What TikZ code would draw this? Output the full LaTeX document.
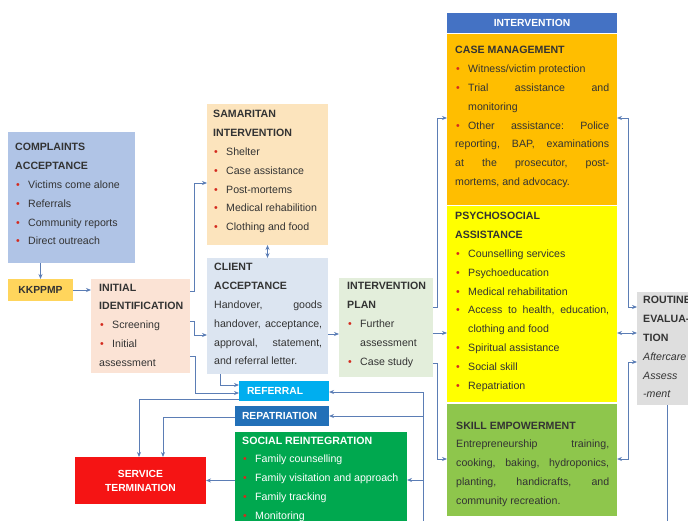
\documentclass[tikz,border=0pt]{standalone}
\usepackage{fontspec}
\setmainfont{Liberation Sans}
\usetikzlibrary{arrows.meta,positioning,calc}

\definecolor{cmpblue}{HTML}{B0C4E6}
\definecolor{kkyellow}{HTML}{FFD55C}
\definecolor{initpink}{HTML}{FBE3D5}
\definecolor{samorange}{HTML}{FCE4BD}
\definecolor{cliblue}{HTML}{DCE5F1}
\definecolor{plangreen}{HTML}{E3EEDB}
\definecolor{ivblue}{HTML}{4472C4}
\definecolor{cmorange}{HTML}{FFBE00}
\definecolor{psyyellow}{HTML}{FFFF00}
\definecolor{skillgreen}{HTML}{8EC64C}
\definecolor{routgray}{HTML}{DEDEDE}
\definecolor{reflcyan}{HTML}{00AEEF}
\definecolor{repatblue}{HTML}{2270B8}
\definecolor{socgreen}{HTML}{00A84F}
\definecolor{termred}{HTML}{F51414}
\definecolor{linec}{HTML}{5B7DB5}
\definecolor{txtgray}{HTML}{333333}
\definecolor{dotred}{HTML}{D42A1E}

\newcommand{\hd}[1]{\textbf{#1}}
\newcommand{\itm}[1]{\par\hangindent=13pt\hangafter=1\noindent\makebox[13pt][l]{\hspace{1pt}\textcolor{dotred}{\textbullet}}#1}

\begin{document}
\begin{tikzpicture}[x=1pt, y=-1pt,
    box/.style={anchor=north west, inner sep=0pt, outer sep=0pt},
    txt/.style={anchor=base west, inner sep=0pt, text width=#1, align=justify, font=\fontsize{10.6}{18.8}\selectfont, text=txtgray},
    tag/.style={font=\fontsize{10.3}{14}\selectfont\bfseries, text=white},
    arr/.style={-{Stealth[length=5pt,width=4pt]}, draw=linec, line width=0.9pt},
    both/.style={{Stealth[length=5pt,width=4pt]}-{Stealth[length=5pt,width=4pt]}, draw=linec, line width=0.9pt}
]
\useasboundingbox (0,0) rectangle (688,521);

% Entry (left column)
\node[box, fill=cmpblue, minimum width=127pt, minimum height=131pt] (cmp) at (8,132) {};
\node[txt=115pt] (cmptext) at (15,151) {\hd{COMPLAINTS\\ACCEPTANCE}\itm{Victims come alone}\itm{Referrals}\itm{Community reports}\itm{Direct outreach}};
\node[box, fill=kkyellow, minimum width=65pt, minimum height=22pt, font=\fontsize{10.3}{14}\selectfont\bfseries, text=txtgray] (kk) at (8,279) {KKPPMP};
\node[box, fill=initpink, minimum width=99pt, minimum height=94pt] (init) at (91,279) {};
\node[txt=89pt] (inittext) at (99,291) {\hd{INITIAL\\IDENTIFICATION}\itm{Screening}\itm{Initial\\assessment}};

% Samaritan and client
\node[box, fill=samorange, minimum width=121pt, minimum height=141pt] (samar) at (207,104) {};
\node[txt=112pt] (samtext) at (213,118) {\hd{SAMARITAN\\INTERVENTION}\itm{Shelter}\itm{Case assistance}\itm{Post-mortems}\itm{Medical rehabilition}\itm{Clothing and food}};
\node[box, fill=cliblue, minimum width=121pt, minimum height=116pt] (client) at (207,258) {};
\node[txt=108pt] (clitext) at (214,271) {\hd{CLIENT\\ACCEPTANCE}\\Handover,\hfill goods\\handover,\hfill acceptance,\\approval,\hfill statement,\\and referral letter.};
\node[box, fill=plangreen, minimum width=94pt, minimum height=99pt] (plan) at (339,278) {};
\node[txt=84pt] (plantext) at (347,290) {\hd{INTERVENTION\\PLAN}\itm{Further\\assessment}\itm{Case study}};

% Intervention column
\node[box, fill=ivblue, minimum width=170pt, minimum height=20pt, tag] (ivh) at (447,13) {INTERVENTION};
\node[box, fill=cmorange, minimum width=170pt, minimum height=171pt] (cm) at (447,34) {};
\node[txt=154pt] (cmtext) at (455,54) {\hd{CASE MANAGEMENT}\itm{Witness/victim protection}\itm{Trial\hfill assistance\hfill and\\monitoring}\itm{Other\hfill assistance:\hfill Police\\reporting,\hfill BAP,\hfill examinations\\at\hfill the\hfill prosecutor,\hfill post-\\mortems, and advocacy.}};
\node[box, fill=psyyellow, minimum width=170pt, minimum height=196pt] (psy) at (447,206) {};
\node[txt=154pt] (psytext) at (455,220) {\hd{PSYCHOSOCIAL\\ASSISTANCE}\itm{Counselling services}\itm{Psychoeducation}\itm{Medical rehabilitation}\itm{Access\hfill to\hfill health,\hfill education,\\clothing and food}\itm{Spiritual assistance}\itm{Social skill}\itm{Repatriation}};
\node[box, fill=skillgreen, minimum width=170pt, minimum height=112pt] (skill) at (447,404) {};
\node[txt=153pt] (skilltext) at (456,429) {\hd{SKILL EMPOWERMENT}\\Entrepreneurship\hfill training,\\cooking,\hfill baking,\hfill hydroponics,\\planting,\hfill handicrafts,\hfill and\\community recreation.};
\node[box, fill=routgray, minimum width=70pt, minimum height=113pt] (rout) at (637,292) {};
\node[txt=60pt] (routtext) at (643,304) {\hd{ROUTINE\\EVALUA-\\TION}\\\textit{Aftercare\\Assess\\-ment}};

% Exit (bottom)
\node[box, fill=reflcyan, minimum width=90pt, minimum height=20pt, tag, inner xsep=8pt, text width=74pt, align=left] (refl) at (239,381) {REFERRAL};
\node[box, fill=repatblue, minimum width=94pt, minimum height=20pt, tag, inner xsep=7pt, text width=80pt, align=left] (repat) at (235,406) {REPATRIATION};
\node[box, fill=socgreen, minimum width=172pt, minimum height=96pt] (social) at (235,432) {};
\node[txt=163pt, text=white] (soctext) at (242,444) {\hd{SOCIAL REINTEGRATION}\itm{Family counselling}\itm{Family visitation and approach}\itm{Family tracking}\itm{Monitoring}};
\node[box, fill=termred, minimum width=131pt, minimum height=47pt, tag, align=center] (term) at (75,457) {SERVICE\\TERMINATION};

\coordinate (rbot) at (667,530);
\coordinate (lbot) at (423,530);

% Arrows on the entry side
\draw[arr] (cmp.south -| kk.north) -- (kk.north);
\draw[arr] (kk.east) -- (kk.east -| init.west);
\draw[arr] ($(init.north east)+(0,12)$) -- ++(4,0) |- ($(samar.north west)+(0,79)$);
\draw[arr] ($(init.north east)+(0,42)$) -- ++(4,0) |- ($(client.north west)+(0,77)$);
\draw[arr] ($(init.north east)+(0,77)$) -- ++(5,0) |- ($(refl.north west)+(0,12)$);
\draw[arr] ($(client.south west)+(13,0)$) |- ($(refl.north west)+(0,4)$);
\draw[both] (samar.south) -- (client.north);
\draw[arr] ($(client.north east)+(0,76)$) -- ($(plan.north west)+(0,56)$);

% Arrows from the plan to the intervention
\draw[arr] ($(plan.north east)+(0,29)$) -- ++(4,0) |- ($(cm.north west)+(0,84)$);
\draw[arr] ($(plan.north east)+(0,55)$) -- ($(psy.north west)+(0,127)$);
\draw[arr] ($(plan.north east)+(0,85)$) -- ++(4,0) |- ($(skill.north west)+(0,55)$);

% Routine evaluation
\draw[both] ($(cm.north east)+(0,84)$) -- ++(11,0) |- ($(rout.north west)+(0,15)$);
\draw[both] ($(psy.north east)+(0,127)$) -- ($(rout.north west)+(0,41)$);
\draw[both] ($(skill.north east)+(0,55)$) -- ++(11,0) |- ($(rout.north west)+(0,70)$);
\draw[draw=linec, line width=0.9pt] ($(rout.south west)+(30,0)$) -- (rbot);

% Arrows on the exit side
\draw[arr] (lbot) |- ($(refl.north east)+(0,11)$);
\draw[arr] (lbot |- repat.east) -- (repat.east);
\draw[arr] (lbot |- social.east) -- (social.east);
\draw[arr] ($(refl.south west)+(0,-2)$) -| ($(term.north west)+(64,0)$);
\draw[arr] ($(repat.north west)+(0,11)$) -| ($(term.north west)+(88,0)$);
\draw[arr] (term.east -| social.west) -- (term.east);

\end{tikzpicture}
\end{document}
